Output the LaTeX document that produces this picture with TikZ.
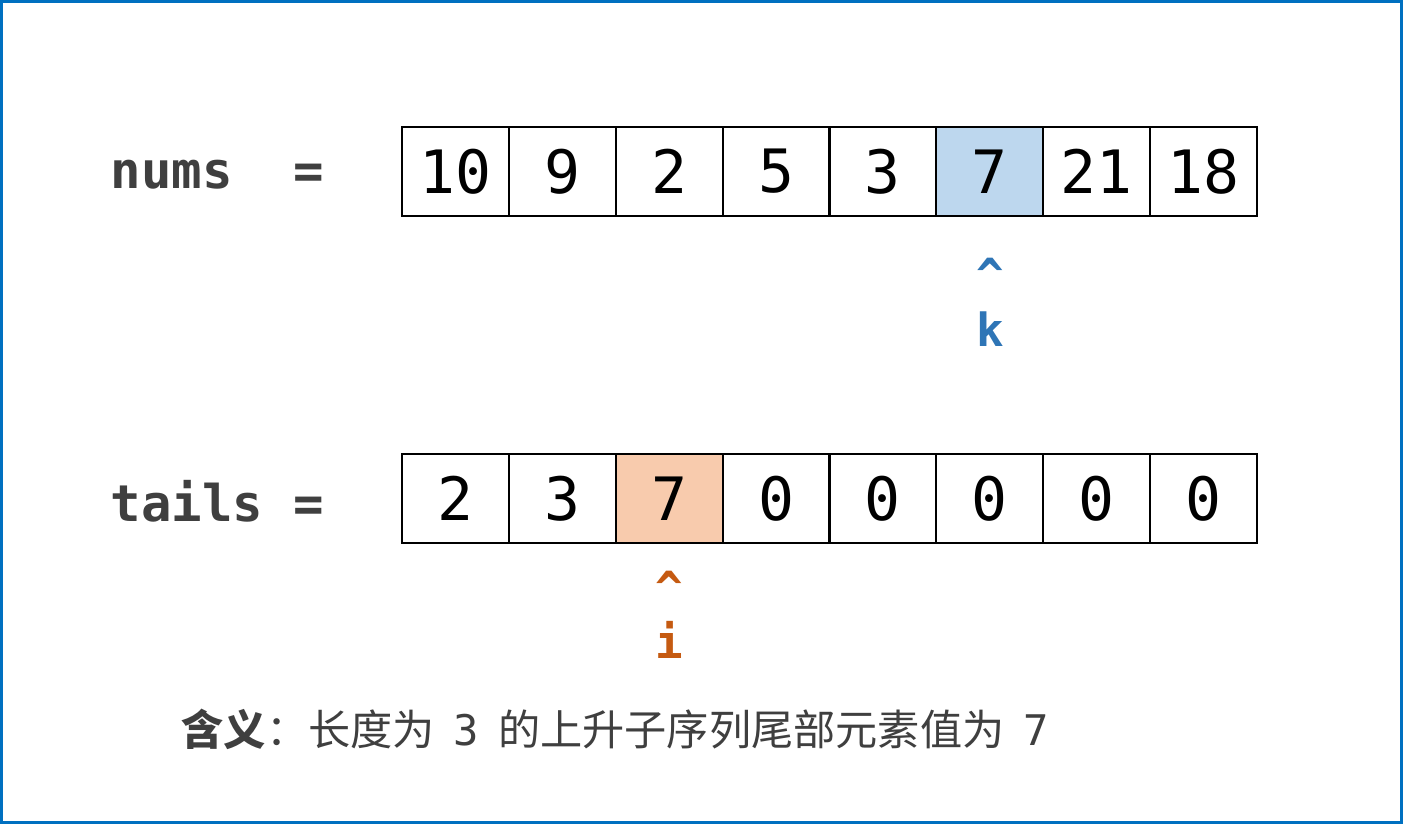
\documentclass[tikz,border=0pt]{standalone}
\usepackage{fontspec}
\setmonofont{DejaVu Sans Mono}
\newfontfamily\cjk{Noto Sans CJK SC}
\usepackage{xcolor}
\definecolor{framebl}{HTML}{0070C0}
\definecolor{labgray}{HTML}{3F3F3F}
\definecolor{cellbl}{HTML}{BDD7EE}
\definecolor{cellor}{HTML}{F8CBAD}
\definecolor{ptrbl}{HTML}{2E75B6}
\definecolor{ptror}{HTML}{C55A11}
\usetikzlibrary{positioning}
\tikzset{
  cell/.style={draw,line width=0.02cm,minimum width=1.06875cm,minimum height=0.89cm,
    inner sep=0pt,font=\ttfamily\fontsize{17}{17}\selectfont},
  arrlab/.style={font=\ttfamily\bfseries\fontsize{14.4}{14.4}\selectfont,labgray,
    anchor=west,inner sep=0pt},
  ptr/.style={font=\ttfamily\bfseries\fontsize{13}{13}\selectfont,inner sep=0pt},
}

\begin{document}
\begin{tikzpicture}[x=0.01cm,y=-0.01cm]
  \useasboundingbox (0,0) rectangle (1403,824);
  \fill[white] (0,0) rectangle (1403,824);
  \draw[framebl,line width=0.03cm] (1.5,1.5) rectangle (1401.5,822.5);
  % --- array labels ---
  \node[arrlab] (numslab) at (110,175) {nums\ \ =};
  \node[arrlab] (tailslab) at (110,501) {tails =};
  % --- nums row ---
  \foreach \v [count=\i] in {10,9,2,5,3,7,21,18}
    \node[cell] (n\i) at ({402+106.875*(\i-0.5)},171.5) {\v};
  % --- tails row ---
  \foreach \v [count=\i] in {2,3,7,0,0,0,0,0}
    \node[cell] (t\i) at ({402+106.875*(\i-0.5)},498.5) {\v};
  % highlighted cells (refill so text stays on top)
  \node[cell,fill=cellbl] at (n6) {7};
  \node[cell,fill=cellor] at (t3) {7};
  % pointers
  \node[ptr,ptrbl] (kcaret) at (990,275) {\textasciicircum};
  \node[ptr,ptrbl] (klab) at (990,329) {k};
  \node[ptr,ptror] (icaret) at (669,588) {\textasciicircum};
  \node[ptr,ptror] (ilab) at (669,640) {i};
  % meaning
  \node[anchor=west,labgray,font=\cjk\fontsize{12}{12}\selectfont,inner sep=0pt] (meaning) at (181,729)
    {{\bfseries 含义}：长度为\ \ \texttt{3}\ \ 的上升子序列尾部元素值为\ \ \texttt{7}};
\end{tikzpicture}
\end{document}
